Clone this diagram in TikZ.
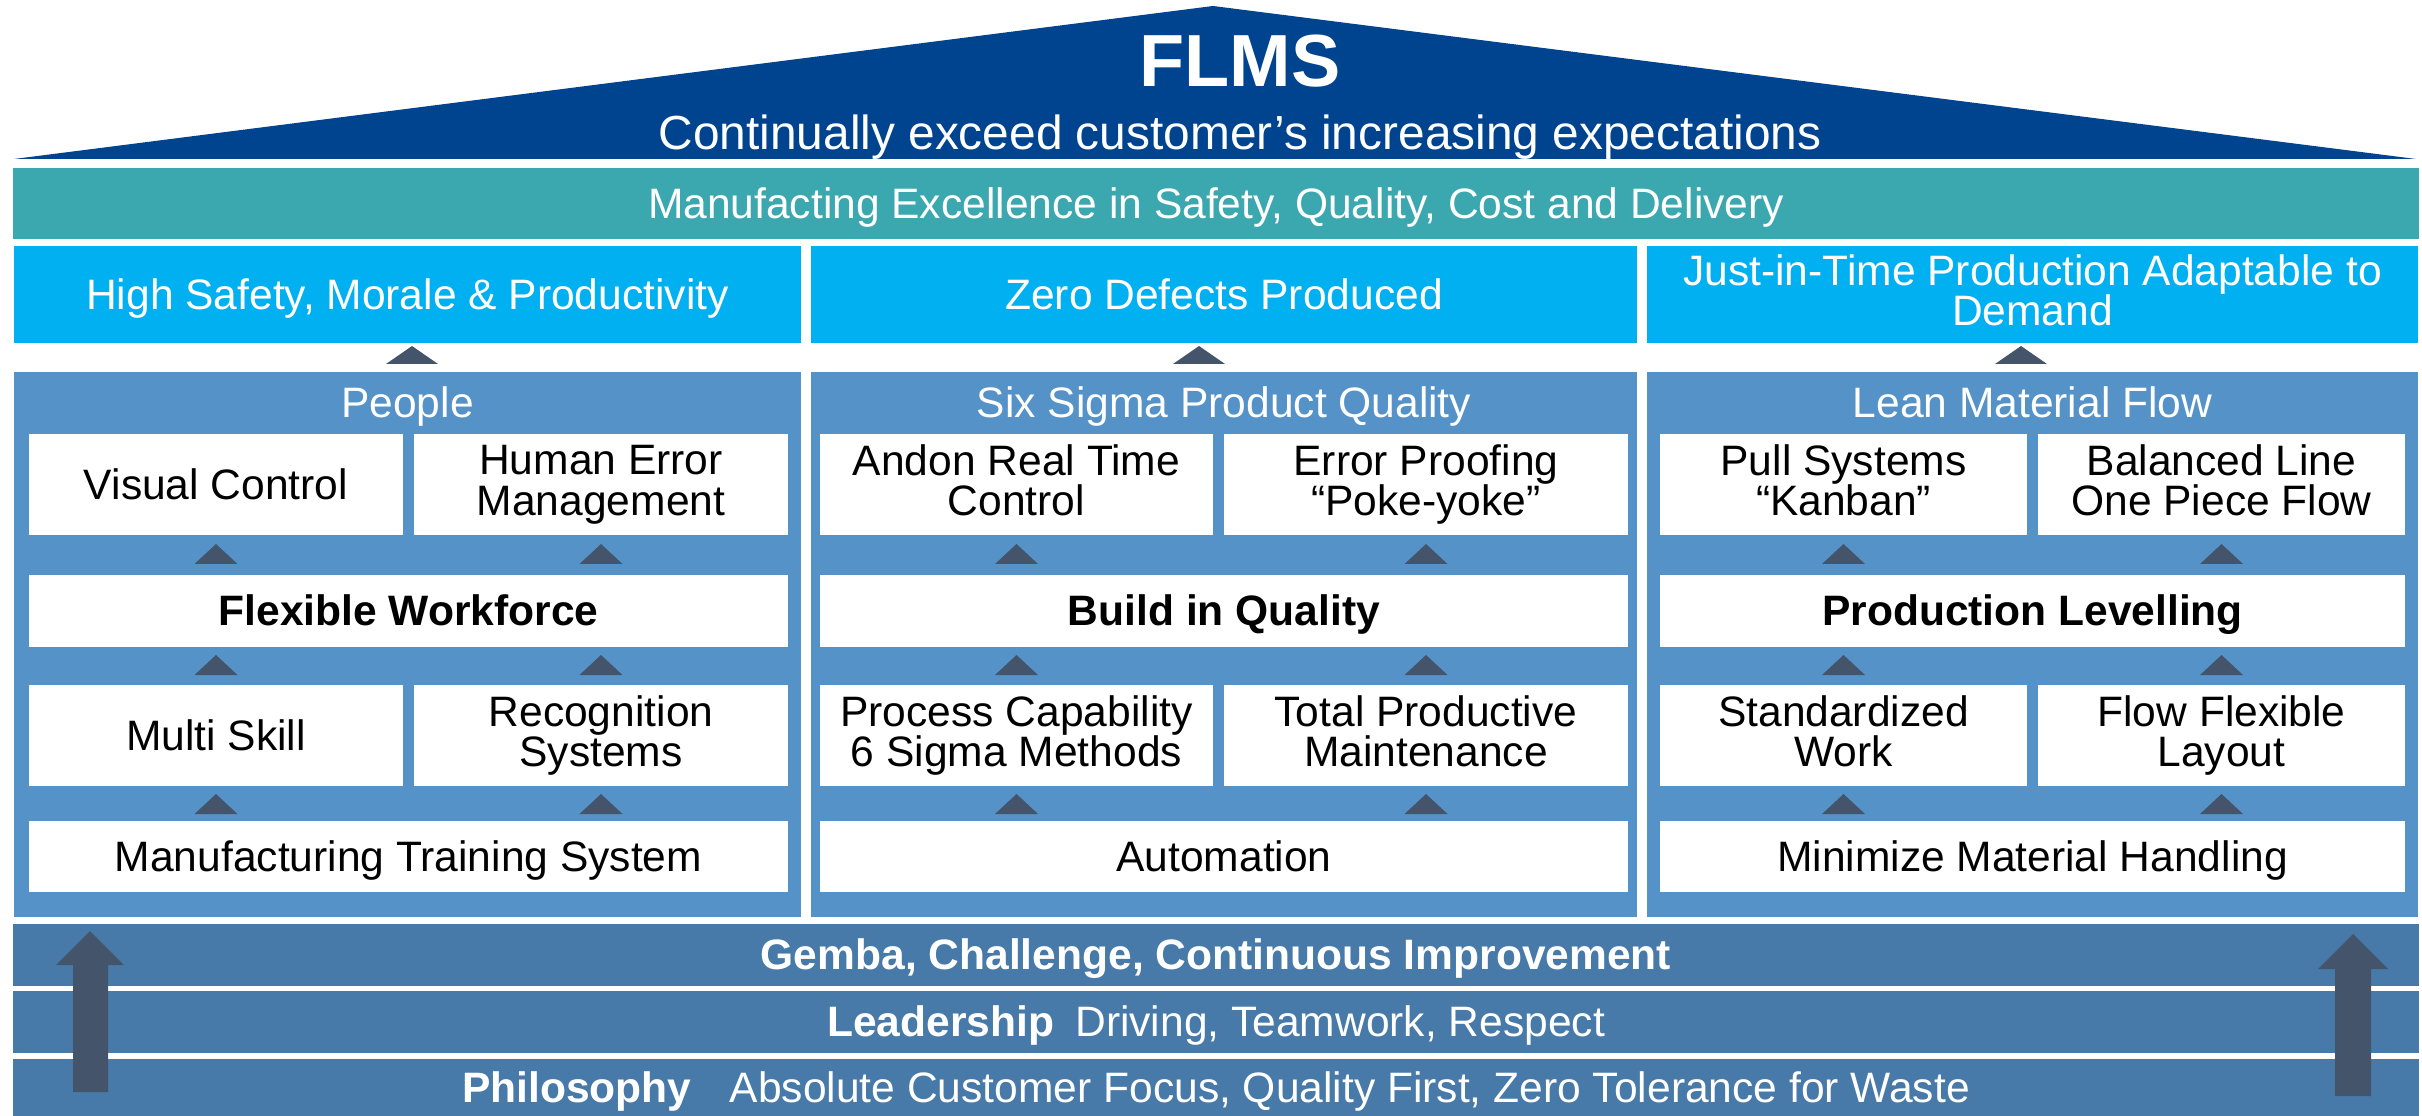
\documentclass[tikz,border=0pt]{standalone}
\usepackage{fontspec}
\setmainfont{Liberation Sans}
\definecolor{RoofBlue}{RGB}{0, 68, 144}
\definecolor{Teal}{RGB}{59, 168, 176}
\definecolor{Sky}{RGB}{0, 176, 240}
\definecolor{PillarBlue}{RGB}{85, 146, 200}
\definecolor{BandBlue}{RGB}{71, 122, 168}
\definecolor{Slate}{RGB}{68, 84, 106}
\usetikzlibrary{positioning}

\begin{document}
\begin{tikzpicture}[x=0.01cm, y=-0.01cm,
    every node/.style={font=\fontsize{12.1}{11.6}\selectfont, inner sep=0pt, align=center,
        execute at begin node=\rule{0pt}{0.905em}, execute at end node=\rule[-0.212em]{0pt}{0pt}},
    goal/.style={fill=Sky, text=white, minimum height=0.97cm},
    pillar/.style={fill=PillarBlue, minimum height=5.45cm},
    block/.style={fill=white, minimum height=1.01cm},
    twoline/.style={block, execute at begin node=\rule{0pt}{\dimexpr 0.905em+0.06cm\relax}},
    keybox/.style={fill=white, minimum height=0.72cm, font=\fontsize{12.1}{11.6}\selectfont\bfseries},
    band/.style={fill=BandBlue, text=white, minimum width=24.04cm}]
    \useasboundingbox[fill=white] (0,0) rectangle (2422,1116);

    % roof
    \fill[RoofBlue] (14,159) -- (1213,6) -- (2416,159) -- cycle;
    \node[font=\fontsize{21}{24}\selectfont\bfseries, text=white, anchor=base] (flms) at (1240,87) {FLMS};
    \node[font=\fontsize{13.6}{15}\selectfont, text=white, anchor=base] (vision) at (1240,150) {Continually exceed customer’s increasing expectations};
    \node[fill=Teal, text=white, minimum width=24.04cm, minimum height=0.71cm] (excel) at (1216,203.5) {Manufacting Excellence in Safety, Quality, Cost and Delivery};

    % goals
    \node[goal, minimum width=7.87cm] (gpeople) at (407.5,294.5) {High Safety, Morale \& Productivity};
    \node[goal, minimum width=8.26cm] (gquality) at (1224,294.5) {Zero Defects Produced};
    \node[goal, minimum width=7.71cm] (gflow) at (2032.5,294.5) {Just-in-Time Production Adaptable to\\Demand};
    \foreach \x in {412, 1199, 2021}
        \fill[Slate] (\x-26,364) -- (\x+26,364) -- (\x,346) -- cycle;

    % pillars
    \node[pillar, minimum width=7.87cm] (people) at (407.5,644.5) {};
    \node[pillar, minimum width=8.26cm] (quality) at (1224,644.5) {};
    \node[pillar, minimum width=7.71cm] (flow) at (2032.5,644.5) {};
    \node[text=white, anchor=base] (tpeople) at (407.5,418) {People};
    \node[text=white, anchor=base] (tquality) at (1224,418) {Six Sigma Product Quality};
    \node[text=white, anchor=base] (tflow) at (2032.5,418) {Lean Material Flow};

    % people
    \node[block, minimum width=3.74cm] (visual) at (216,484.5) {Visual Control};
    \node[twoline, minimum width=3.74cm] (human) at (601,484.5) {Human Error\\Management};
    \node[keybox, minimum width=7.59cm] (flex) at (408.5,611) {Flexible Workforce};
    \node[block, minimum width=3.74cm] (multi) at (216,735.5) {Multi Skill};
    \node[twoline, minimum width=3.74cm] (recog) at (601,735.5) {Recognition\\Systems};
    \node[block, minimum width=7.59cm, minimum height=0.71cm] (mts) at (408.5,856.5) {Manufacturing Training System};

    % quality
    \node[twoline, minimum width=3.93cm] (andon) at (1016.5,484.5) {Andon Real Time\\Control};
    \node[twoline, minimum width=4.04cm] (proof) at (1426,484.5) {Error Proofing\\“Poke-yoke”};
    \node[keybox, minimum width=8.08cm] (biq) at (1224,611) {Build in Quality};
    \node[twoline, minimum width=3.93cm] (capab) at (1016.5,735.5) {Process Capability\\6 Sigma Methods};
    \node[twoline, minimum width=4.04cm] (tpm) at (1426,735.5) {Total Productive\\Maintenance};
    \node[block, minimum width=8.08cm, minimum height=0.71cm] (auto) at (1224,856.5) {Automation};

    % flow
    \node[twoline, minimum width=3.67cm] (pull) at (1843.5,484.5) {Pull Systems\\“Kanban”};
    \node[twoline, minimum width=3.67cm] (balanced) at (2221.5,484.5) {Balanced Line\\One Piece Flow};
    \node[keybox, minimum width=7.45cm] (level) at (2032.5,611) {Production Levelling};
    \node[twoline, minimum width=3.67cm] (stdwork) at (1843.5,735.5) {Standardized\\Work};
    \node[twoline, minimum width=3.67cm] (layout) at (2221.5,735.5) {Flow Flexible\\Layout};
    \node[block, minimum width=7.45cm, minimum height=0.71cm] (handling) at (2032.5,856.5) {Minimize Material Handling};

    \foreach \x in {216, 601, 1016.5, 1426, 1843.5, 2221.5}
        \foreach \y in {564, 675, 814}
            \fill[Slate] (\x-21.5,\y) -- (\x+21.5,\y) -- (\x,\y-20) -- cycle;

    % foundation
    \node[band, minimum height=0.62cm, font=\fontsize{12.1}{11.6}\selectfont\bfseries] (gemba) at (1216,955) {Gemba, Challenge, Continuous Improvement};
    \node[band, minimum height=0.62cm] (lead) at (1216,1022) {\textbf{Leadership}\hspace{0.5em}Driving, Teamwork, Respect};
    \node[band, minimum height=0.57cm] (philo) at (1216,1087.5) {\textbf{Philosophy}\hspace{0.9em}Absolute Customer Focus, Quality First, Zero Tolerance for Waste};
    \fill[Slate] (73,1092) -- (73,965) -- (56,965) -- (90,931) -- (124,965) -- (108,965) -- (108,1092) -- cycle;
    \fill[Slate] (2335,1096) -- (2335,969) -- (2318,969) -- (2353,934) -- (2388,969) -- (2371,969) -- (2371,1096) -- cycle;
\end{tikzpicture}
\end{document}
